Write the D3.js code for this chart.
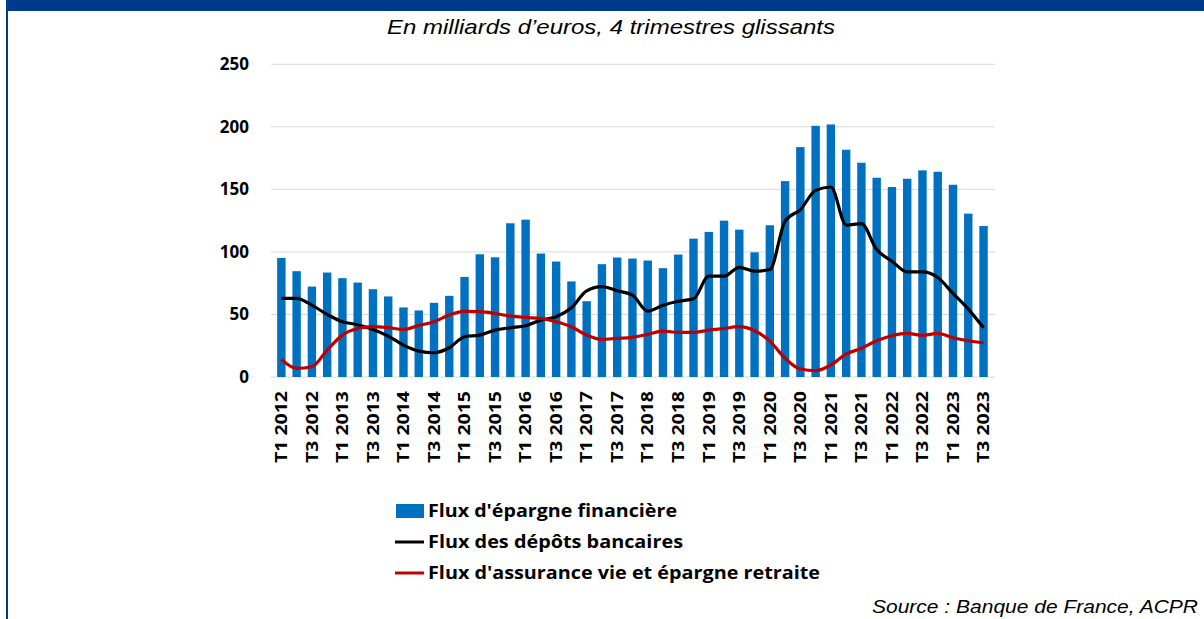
<!DOCTYPE html>
<html>
<head>
<meta charset="utf-8">
<script src="https://d3js.org/d3.v7.min.js"></script>
<style>
  body { margin: 0; background: #fff; }
  svg { display: block; }
</style>
</head>
<body>
<svg id="chart" width="1204" height="619"></svg>
<script>
// quarters T1 2012 .. T3 2023
var quarters = [];
for (var yr = 2012; yr <= 2023; yr++) {
  for (var q = 1; q <= 4; q++) {
    if (yr == 2023 && q > 3) break;
    quarters.push("T" + q + " " + yr);
  }
}

// Flux d'épargne financière (bars)
var epargne = [95.2, 84.6, 72.3, 83.5, 79, 75.5, 70.2, 64.4, 55.6, 53.2, 59.3, 64.9, 80, 98.1,
  95.7, 122.9, 125.8, 98.7, 92.3, 76.4, 60.6, 90.2, 95.5, 94.7, 93.1, 87, 97.9, 110.6, 116, 125,
  117.8, 99.7, 121.3, 156.6, 183.8, 200.8, 201.9, 181.7, 171.3, 159.3, 151.9, 158.5, 165.2, 164.1,
  153.7, 130.6, 120.7];

// Flux des dépôts bancaires (black line)
var depots = [62.8, 62.8, 57.4, 50, 44.2, 41.8, 38, 32.7, 25.5, 20.7, 19.4, 23.4, 32.2, 33.5,
  37.5, 39.4, 41, 45.5, 48.1, 55.3, 68.9, 72.3, 68.9, 65.4, 52.7, 57.4, 60.6, 62.5, 80.6, 80.6,
  87.7, 84.6, 85.9, 124.7, 133.8, 149.2, 151.9, 121.5, 122.6, 101.9, 92.6, 84, 84, 79.5, 66.8,
  54.3, 39.4];

// Flux d'assurance vie et épargne retraite (red line)
var assurance = [14.1, 6.9, 8.2, 21.5, 33.5, 38.8, 40.2, 39.4, 38, 41.2, 44.2, 49.5, 52.4, 52.2,
  50.8, 48.7, 47.6, 46.8, 44.2, 40.2, 33.5, 30.1, 30.9, 31.7, 34.1, 36.7, 35.6, 35.6, 37.5, 38.8,
  40.2, 37, 28.7, 14.9, 6.4, 5.1, 9.6, 18.4, 22.9, 29, 33, 34.9, 33.3, 34.9, 31.4, 29, 27.4];

var yTicks = [0, 50, 100, 150, 200, 250];

var legendItems = [
  {label: "Flux d'épargne financière", type: "bar", color: "#0070C0", w: 249},
  {label: "Flux des dépôts bancaires", type: "line", color: "#000000", w: 255},
  {label: "Flux d'assurance vie et épargne retraite", type: "line", color: "#C00000", w: 392}
];

var svg = d3.select("#chart");

// frame
svg.append("rect").attr("x", 6).attr("y", 0).attr("width", 1198).attr("height", 11).attr("fill", "#003A8C");
svg.append("rect").attr("x", 6).attr("y", 0).attr("width", 2).attr("height", 619).attr("fill", "#003A8C");

// title
svg.append("text")
  .attr("x", 611).attr("y", 34)
  .attr("text-anchor", "middle")
  .attr("textLength", 448).attr("lengthAdjust", "spacingAndGlyphs")
  .style("font-family", "Liberation Sans, Arial, sans-serif")
  .style("font-style", "italic")
  .style("font-size", "21px")
  .text("En milliards d\u2019euros, 4 trimestres glissants");

var x = d3.scaleBand().domain(quarters).range([270.3, 994.6]).padding(0.45);
var y = d3.scaleLinear().domain([0, 250]).range([377, 64.3]);

// grid
svg.append("g").selectAll("line").data(yTicks).enter().append("line")
  .attr("x1", 271).attr("x2", 995)
  .attr("y1", function(d) { return y(d); })
  .attr("y2", function(d) { return y(d); })
  .attr("stroke", "#d9d9d9").attr("stroke-width", 1);

// y axis labels
var yAxis = d3.axisLeft(y).tickValues(yTicks).tickSize(0).tickPadding(0);
var gy = svg.append("g").attr("transform", "translate(249,0)").call(yAxis);
gy.select(".domain").remove();
gy.selectAll("text")
  .style("font-family", "Open Sans, sans-serif")
  .style("font-weight", "bold")
  .style("font-size", "17px")
  .attr("fill", "#000");

// bars
svg.append("g").selectAll("rect").data(epargne).enter().append("rect")
  .attr("x", function(d, i) { return x(quarters[i]); })
  .attr("y", function(d) { return y(d); })
  .attr("width", x.bandwidth())
  .attr("height", function(d) { return y(0) - y(d); })
  .attr("fill", "#0070C0");

var cx = function(d, i) { return x(quarters[i]) + x.bandwidth() / 2; };
var line = d3.line().x(cx).y(function(d) { return y(d); }).curve(d3.curveMonotoneX);

svg.append("path").datum(depots).attr("d", line)
  .attr("fill", "none").attr("stroke", "#000").attr("stroke-width", 3.2).attr("stroke-linejoin", "round");
svg.append("path").datum(assurance).attr("d", line)
  .attr("fill", "none").attr("stroke", "#C00000").attr("stroke-width", 3.2).attr("stroke-linejoin", "round");

// x axis labels (every 2 quarters)
var xAxis = d3.axisBottom(x)
  .tickValues(quarters.filter(function(d, i) { return i % 2 == 0; }))
  .tickSize(0).tickPadding(0);
var gx = svg.append("g").attr("transform", "translate(0,386)").call(xAxis);
gx.select(".domain").remove();
gx.selectAll("text")
  .attr("transform", "rotate(-90)")
  .attr("text-anchor", "end")
  .attr("x", -5).attr("y", 0).attr("dy", "0.36em")
  .attr("textLength", 72).attr("lengthAdjust", "spacingAndGlyphs")
  .style("font-family", "Open Sans, sans-serif")
  .style("font-weight", "bold")
  .style("font-size", "16px")
  .attr("fill", "#000");

// legend
var lg = svg.append("g").selectAll("g").data(legendItems).enter().append("g")
  .attr("transform", function(d, i) { return "translate(395," + [511, 542, 573][i] + ")"; });
lg.each(function(d) {
  var g = d3.select(this);
  if (d.type == "bar") {
    g.append("rect").attr("x", 1).attr("y", -7).attr("width", 28).attr("height", 14).attr("fill", d.color);
  } else {
    g.append("line").attr("x1", 0).attr("x2", 29).attr("y1", 0).attr("y2", 0)
      .attr("stroke", d.color).attr("stroke-width", 3);
  }
  g.append("text").attr("x", 33).attr("y", 0).attr("dy", "0.36em")
    .attr("textLength", d.w).attr("lengthAdjust", "spacingAndGlyphs")
    .style("font-family", "Open Sans, sans-serif")
    .style("font-weight", "bold")
    .style("font-size", "18px")
    .text(d.label);
});

// source
svg.append("text")
  .attr("x", 1198).attr("y", 613)
  .attr("text-anchor", "end")
  .attr("textLength", 326).attr("lengthAdjust", "spacingAndGlyphs")
  .style("font-family", "Liberation Sans, Arial, sans-serif")
  .style("font-style", "italic")
  .style("font-size", "18px")
  .text("Source : Banque de France, ACPR");
</script>
</body>
</html>
